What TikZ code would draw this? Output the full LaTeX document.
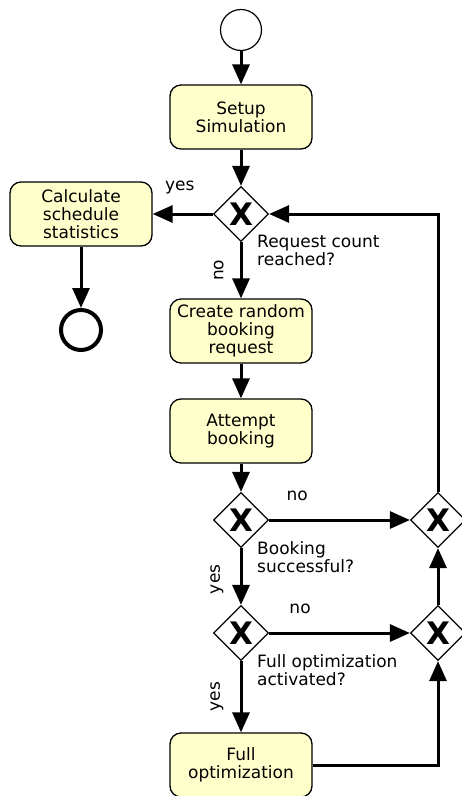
\documentclass[tikz,border=0pt]{standalone}
\usepackage{fontspec}
\setmainfont{DejaVu Sans}
\usetikzlibrary{shapes.geometric,arrows.meta}
\definecolor{bptask}{HTML}{FFFFCC}
\newcommand{\gatex}{\fontsize{31}{31}\selectfont\bfseries X}

\begin{document}
\begin{tikzpicture}[
  x=1pt, y=-1pt,
  font=\fontsize{17}{18}\selectfont,
  task/.style={draw, line width=1.3pt, rounded corners=11pt, fill=bptask,
               align=center, minimum width=142pt, minimum height=64pt, inner sep=2pt},
  gate/.style={diamond, draw, line width=1.2pt, fill=white, minimum width=55pt,
               minimum height=55pt, inner sep=0pt, label={center:\gatex}},
  startev/.style={circle, draw, line width=1.2pt, minimum size=41pt},
  endev/.style={circle, draw, line width=4pt, minimum size=40pt},
  flow/.style={-{Triangle[length=20pt,width=17pt]}, line width=3pt},
  lbl/.style={inner sep=0pt, align=left},
  vlbl/.style={rotate=90, anchor=south, inner xsep=0pt, inner ysep=16pt},
]
  \useasboundingbox (0,0) rectangle (462,796);

  \node[startev] (start) at (241,30) {};
  \node[task] (setup) at (241,117) {Setup\\Simulation};
  \node[gate] (gw1) at (241,214) {};
  \node[task] (calc) at (81,214) {Calculate\\schedule\\statistics};
  \node[endev] (stop) at (81,330) {};
  \node[task] (create) at (241,331) {Create random\\booking\\request};
  \node[task] (attempt) at (241,431) {Attempt\\booking};
  \node[gate] (gw2) at (241,520) {};
  \node[gate] (rg1) at (438,520) {};
  \node[gate] (gw3) at (241,633) {};
  \node[gate] (rg2) at (438,633) {};
  \node[task] (full) at (241,765) {Full\\optimization};

  % gateway questions
  \node[lbl, anchor=north west] (q1) at ([xshift=16pt,yshift=7pt]gw1.south) {Request count\\reached?};
  \node[lbl, anchor=north west] (q2) at ([xshift=16pt,yshift=7pt]gw2.south) {Booking\\successful?};
  \node[lbl, anchor=north west] (q3) at ([xshift=16pt,yshift=7pt]gw3.south) {Full optimization\\activated?};

  \draw[flow] (start) -- (setup);
  \draw[flow] (setup) -- (gw1);
  \draw[flow] (gw1) -- node[lbl, above=18pt, pos=0.55] {yes} (calc);
  \draw[flow] (calc) -- (stop);
  \draw[flow] (gw1) -- node[vlbl] {no} (create);
  \draw[flow] (create) -- (attempt);
  \draw[flow] (attempt) -- (gw2);
  \draw[flow] (gw2) -- node[lbl, above=18pt, pos=0.2] {no} (rg1);
  \draw[flow] (gw2) -- node[vlbl, pos=0.55] {yes} (gw3);
  \draw[flow] (gw3) -- node[lbl, above=18pt, pos=0.22] {no} (rg2);
  \draw[flow] (gw3) -- node[vlbl] {yes} (full);
  \draw[flow] (full) -| (rg2);
  \draw[flow] (rg2) -- (rg1);
  \draw[flow] (rg1) |- (gw1);
\end{tikzpicture}
\end{document}
